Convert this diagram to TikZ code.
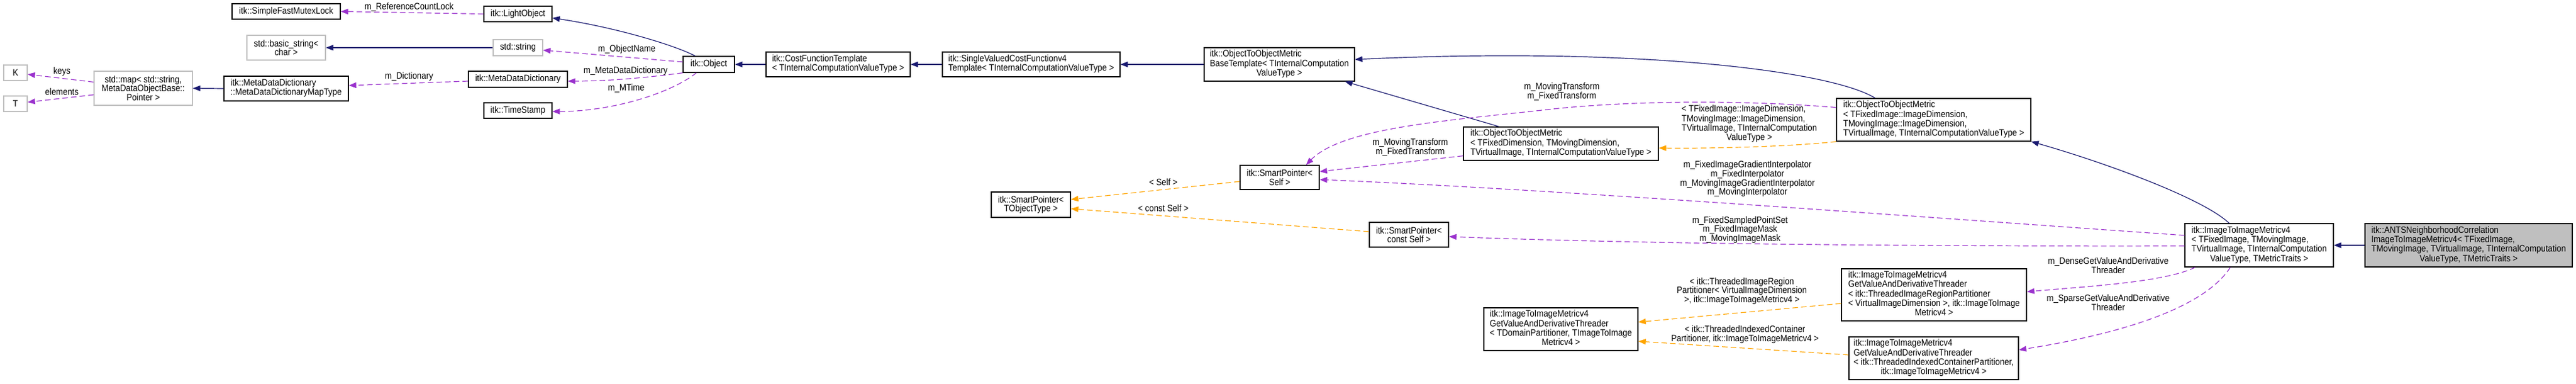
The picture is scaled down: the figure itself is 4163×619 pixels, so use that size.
\documentclass[tikz,border=0pt]{standalone}
\usepackage{fontspec}
\setmainfont{Liberation Sans}[FakeStretch=0.89]
\usetikzlibrary{arrows.meta,calc}
\definecolor{navy}{HTML}{191970}
\definecolor{purp}{HTML}{9A32CD}
\definecolor{orng}{HTML}{FFA500}
\definecolor{gry}{HTML}{BFBFBF}
\newcommand{\dfont}{\fontsize{15}{14.7}\selectfont}
\newcommand{\tl}[1]{\begin{tabular}{@{}l@{}}#1\end{tabular}}
\newcommand{\tc}[1]{\multicolumn{1}{@{}c@{}}{#1}}
\begin{document}
\begin{tikzpicture}[x=1pt,y=-1pt,
  every node/.style={font=\dfont},
  box/.style={draw=black, line width=1.3pt, inner sep=0pt, fill=white, align=center},
  gbox/.style={box, draw=gry},
  sz/.style 2 args={minimum width=#1pt, minimum height=#2pt},
  tip/.style={-{Triangle[length=12pt,width=9pt]}},
  inh/.style={draw=navy, line width=1.2pt, tip},
  mem/.style={draw=purp, line width=1.2pt, dash pattern=on 9pt off 5pt, tip},
  tmpl/.style={draw=orng, line width=1.2pt, dash pattern=on 9pt off 5pt, tip},
  lab/.style={inner sep=0pt, align=center}]
\useasboundingbox[fill=white] (0,0) rectangle (4163,619);

% nodes
\node[gbox, sz={38}{25}] (K) at (25,117.5) {K};
\node[gbox, sz={38}{25}] (T) at (25,167.5) {T};
\node[gbox, sz={159}{55}] (map) at (231.5,142.5) {std::map< std::string,\\ MetaDataObjectBase::\\Pointer >};
\node[box, sz={201}{40}] (MapType) at (462.5,143) {\tl{itk::MetaDataDictionary\\::MetaDataDictionaryMapType}};
\node[box, sz={175}{25}] (SFML) at (462.5,18.5) {itk::SimpleFastMutexLock};
\node[gbox, sz={127}{40}] (bstr) at (462.5,77) {std::basic\_string<\\char >};
\node[box, sz={110}{25}] (LightObject) at (837,22.5) {itk::LightObject};
\node[gbox, sz={80}{26}] (string) at (837,77) {std::string};
\node[box, sz={160}{26}] (MDD) at (837,128) {itk::MetaDataDictionary};
\node[box, sz={110}{25}] (TimeStamp) at (837,178.5) {itk::TimeStamp};
\node[box, sz={83}{26}] (Object) at (1145.5,104) {itk::Object};
\node[box, sz={233}{40}] (Cost) at (1354.5,104) {\tl{itk::CostFunctionTemplate\\< TInternalComputationValueType >}};
\node[box, sz={287}{40}] (Single) at (1666.5,104) {\tl{itk::SingleValuedCostFunctionv4\\Template< TInternalComputationValueType >}};
\node[box, sz={243}{54}] (OTOMB) at (2067.5,104) {\tl{itk::ObjectToObjectMetric\\BaseTemplate< TInternalComputation\\\tc{ValueType >}}};
\node[box, sz={315}{54}] (OTOMFD) at (2522.5,232) {\tl{itk::ObjectToObjectMetric\\< TFixedDimension, TMovingDimension,\\\tc{ TVirtualImage, TInternalComputationValueType >}}};
\node[box, sz={128}{39}] (SPSelf) at (2068,286.5) {itk::SmartPointer<\\Self >};
\node[box, sz={314}{69}] (OTOMFI) at (3125,193.5) {\tl{itk::ObjectToObjectMetric\\< TFixedImage::ImageDimension,\\ TMovingImage::ImageDimension,\\ TVirtualImage, TInternalComputationValueType >}};
\node[box, sz={128}{41}] (SPTO) at (1666,330.5) {itk::SmartPointer<\\TObjectType >};
\node[box, sz={128}{40}] (SPcSelf) at (2277,379) {itk::SmartPointer<\\const Self >};
\node[box, sz={249}{69}] (ThrDom) at (2522.5,531.5) {\tl{itk::ImageToImageMetricv4\\GetValueAndDerivativeThreader\\< TDomainPartitioner, TImageToImage\\\tc{Metricv4 >}}};
\node[box, sz={299}{84}] (ThrReg) at (3125.5,476) {\tl{itk::ImageToImageMetricv4\\GetValueAndDerivativeThreader\\< itk::ThreadedImageRegionPartitioner\\< VirtualImageDimension >, itk::ImageToImage\\\tc{Metricv4 >}}};
\node[box, sz={274}{69}] (ThrIdx) at (3125,578.5) {\tl{itk::ImageToImageMetricv4\\GetValueAndDerivativeThreader\\< itk::ThreadedIndexedContainerPartitioner,\\\tc{itk::ImageToImageMetricv4 >}}};
\node[box, sz={240}{70}] (I2IM) at (3651,396) {\tl{itk::ImageToImageMetricv4\\< TFixedImage, TMovingImage,\\\tc{ TVirtualImage, TInternalComputation}\\\tc{ValueType, TMetricTraits >}}};
\node[box, fill=gry, sz={335}{70}] (ANTS) at (3989.5,396) {\tl{itk::ANTSNeighborhoodCorrelation\\ImageToImageMetricv4< TFixedImage,\\\tc{ TMovingImage, TVirtualImage, TInternalComputation}\\\tc{ValueType, TMetricTraits >}}};

% inheritance
\draw[inh] (MapType.west) -- (map.east);
\draw[inh] (string.west) -- (bstr.east);
\draw[inh] ($(Object.north west)+(20,0)$) .. controls (1095,75) and (1000,45) .. ($(LightObject.east)+(0,6.5)$);
\draw[inh] (Cost.west) -- (Object.east);
\draw[inh] (Single.west) -- (Cost.east);
\draw[inh] (OTOMB.west) -- (Single.east);
\draw[inh] ($(OTOMFD.north west)+(58,0)$) -- ($(OTOMB.south east)+(-16,0)$);
\draw[inh] ($(OTOMFI.north west)+(63,0)$) .. controls (2960,115) and (2650,75) .. ($(OTOMB.east)+(0,-8)$);
\draw[inh] ($(I2IM.north west)+(72,0)$) .. controls (3560,320) and (3400,262) .. (OTOMFI.south east);
\draw[inh] (ANTS.west) -- (I2IM.east);

% members
\draw[mem] (LightObject.west) -- (SFML.east);
\node[lab] (lRef) at (661,12) {m\_ReferenceCountLock};
\draw[mem] ($(Object.west)+(0,-4)$) -- ($(string.east)+(0,4)$);
\node[lab] (lON) at (1013,80) {m\_ObjectName};
\draw[mem] (Object.south west) .. controls (1040,126) and (980,131) .. ($(MDD.east)+(0,3)$);
\node[lab] (lMDD) at (1011,115) {m\_MetaDataDictionary};
\draw[mem] ($(Object.south west)+(22,0)$) .. controls (1085,150) and (990,180) .. ($(TimeStamp.east)+(0,1.5)$);
\node[lab] (lMT) at (1012,143) {m\_MTime};
\draw[mem] ($(MDD.west)+(0,3)$) -- ($(MapType.east)+(0,-5)$);
\node[lab] (lDict) at (661,124) {m\_Dictionary};
\draw[mem] ($(map.west)+(0,-10)$) -- ($(K.east)+(0,2.5)$);
\node[lab] (lkeys) at (100,116) {keys};
\draw[mem] ($(map.west)+(0,10.5)$) -- ($(T.east)+(0,-2.5)$);
\node[lab] (lel) at (100,148) {elements};

\draw[mem] ($(OTOMFD.south west)+(0,-8)$) -- ($(SPSelf.east)+(0,-9.5)$);
\node[lab] (lFD) at (2279,238) {m\_MovingTransform\\m\_FixedTransform};
\draw[mem] ($(OTOMFI.west)+(0,-20)$) .. controls (2800,160) and (2620,163.5) .. (2500,177)
  .. controls (2350,194) and (2170,205) .. ($(SPSelf.north east)+(-22,0)$);
\node[lab] (lFI) at (2524,148) {m\_MovingTransform\\m\_FixedTransform};
\draw[mem] ($(I2IM.west)+(0,-16)$) .. controls (3100,350) and (2500,305) .. ($(SPSelf.east)+(0,3.5)$);
\node[lab] (lInt) at (2824,289) {m\_FixedImageGradientInterpolator\\m\_FixedInterpolator\\m\_MovingImageGradientInterpolator\\m\_MovingInterpolator};
\draw[mem] ($(I2IM.west)+(0,1)$) .. controls (3000,398) and (2600,392) .. ($(SPcSelf.east)+(0,3)$);
\node[lab] (lMask) at (2812,371) {m\_FixedSampledPointSet\\m\_FixedImageMask\\m\_MovingImageMask};
\draw[mem] ($(I2IM.south west)+(17,0)$) .. controls (3500,455) and (3380,462) .. ($(ThrReg.east)+(0,-5)$);
\node[lab] (lDense) at (3407,428.5) {m\_DenseGetValueAndDerivative\\Threader};
\draw[mem] ($(I2IM.south west)+(74,0)$) .. controls (3560,500) and (3420,540) .. ($(ThrIdx.east)+(0,-13.5)$);
\node[lab] (lSparse) at (3407,488.5) {m\_SparseGetValueAndDerivative\\Threader};

% template instantiations
\draw[tmpl] ($(SPSelf.west)+(0,6.5)$) -- ($(SPTO.east)+(0,-8.5)$);
\node[lab] (lSelf) at (1880,294) {< Self >};
\draw[tmpl] ($(SPcSelf.west)+(0,-5)$) -- ($(SPTO.east)+(0,6.5)$);
\node[lab] (lcSelf) at (1880,336) {< const Self >};
\draw[tmpl] (OTOMFI.south west) .. controls (2900,236) and (2780,240) .. ($(OTOMFD.east)+(0,7)$);
\node[lab] (lTF) at (2827,200.5) {\tl{< TFixedImage::ImageDimension,\\TMovingImage::ImageDimension,\\TVirtualImage, TInternalComputation\\\tc{ValueType >}}};
\draw[tmpl] ($(ThrReg.west)+(0,14)$) -- ($(ThrDom.east)+(0,-11.5)$);
\node[lab] (lReg) at (2815,470) {< itk::ThreadedImageRegion\\Partitioner< VirtualImageDimension\\ >, itk::ImageToImageMetricv4 >};
\draw[tmpl] ($(ThrIdx.west)+(0,-5.5)$) -- ($(ThrDom.east)+(0,19.5)$);
\node[lab] (lIdx) at (2820,540) {< itk::ThreadedIndexedContainer\\Partitioner, itk::ImageToImageMetricv4 >};
\end{tikzpicture}
\end{document}
